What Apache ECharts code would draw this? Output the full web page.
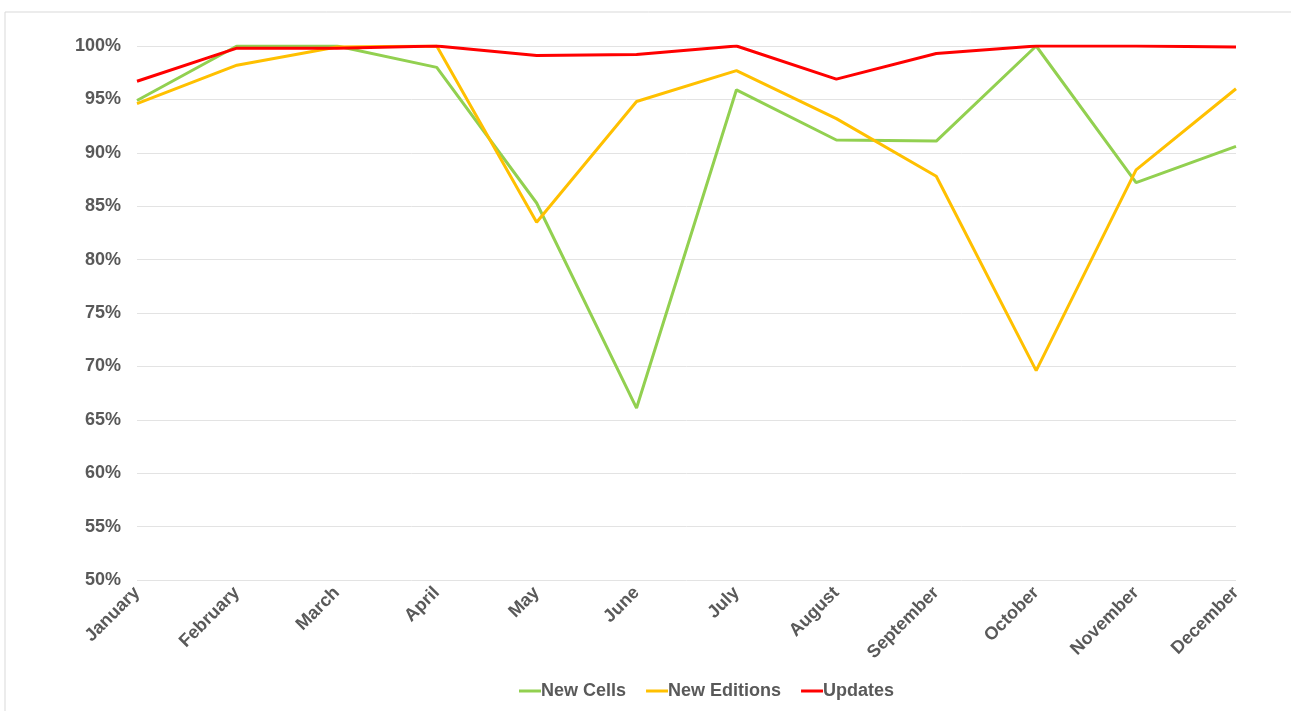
<!DOCTYPE html>
<html><head><meta charset="utf-8">
<script src="https://cdn.jsdelivr.net/npm/echarts@6/dist/echarts.min.js"></script>
<style>html,body{margin:0;padding:0;background:#fff}#c{width:1291px;height:711px}</style>
</head><body><div id="c"></div>
<script>
const months = ['January','February','March','April','May','June','July','August','September','October','November','December'];
const newCells = [94.9, 100, 100, 98.0, 85.3, 66.1, 95.9, 91.2, 91.1, 100, 87.2, 90.6];
const newEditions = [94.6, 98.2, 99.9, 100, 83.5, 94.8, 97.7, 93.2, 87.8, 69.6, 88.4, 96.0];
const updates = [96.7, 99.8, 99.8, 100, 99.1, 99.2, 100, 96.9, 99.3, 100, 100, 99.9];
const font = 'Liberation Sans, Arial, sans-serif';
const chart = echarts.init(document.getElementById('c'));
function s(name, data, color){
  return {name, type:'line', data, symbol:'none', lineStyle:{width:3, color}, itemStyle:{color}};
}
chart.setOption({
  animation:false,
  graphic:[{type:'rect', shape:{x:5,y:12,width:1300,height:720}, style:{fill:'none', stroke:'#d9d9d9', lineWidth:1}}],
  grid:{left:137, right:55, top:46, bottom:131},
  legend:{bottom:6, left:514, itemWidth:22, itemHeight:3, itemGap:20,
    textStyle:{fontFamily:font, fontSize:18, fontWeight:'bold', color:'#595959', padding:[0,0,0,-5]},
    data:['New Cells','New Editions','Updates'], icon:'rect'},
  xAxis:{type:'category', data:months, boundaryGap:false,
    axisLine:{show:false}, axisTick:{show:false},
    axisLabel:{rotate:45, margin:10, fontFamily:font, fontSize:18, fontWeight:'bold', color:'#595959', interval:0}},
  yAxis:{type:'value', min:50, max:100, interval:5,
    axisLine:{show:false}, axisTick:{show:false},
    splitLine:{lineStyle:{color:'#e3e3e3', width:1}},
    axisLabel:{formatter:v=>v+'%', margin:16, fontFamily:font, fontSize:18, fontWeight:'bold', color:'#595959'}},
  series:[s('New Cells', newCells, '#92d050'), s('New Editions', newEditions, '#ffc000'), s('Updates', updates, '#ff0000')]
});
</script></body></html>
